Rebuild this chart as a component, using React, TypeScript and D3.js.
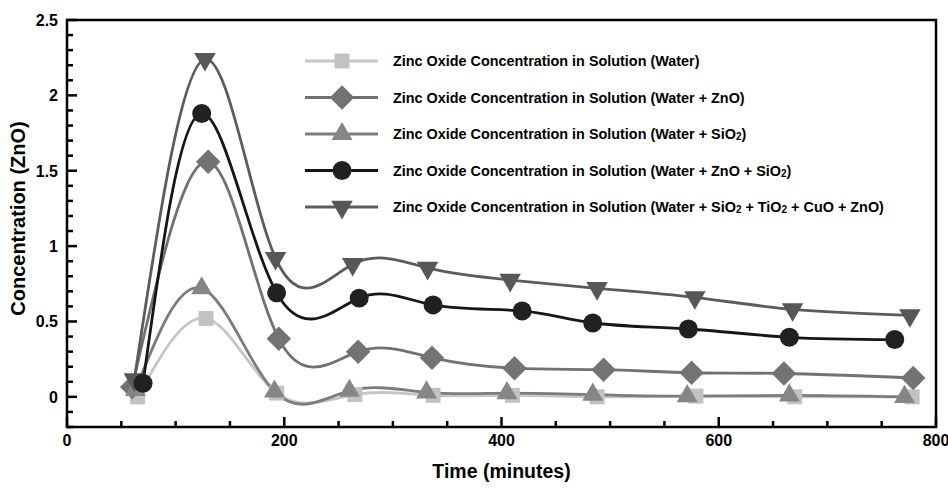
import React from "react";
import * as d3 from "d3";

const seriesNames = [
  "(Water)",
  "(Water + ZnO)",
  "(Water + SiO2)",
  "(Water + ZnO + SiO2)",
  "(Water + SiO2 + TiO2 + CuO + ZnO)",
];

const waterT = [65, 128, 193, 265, 337, 410, 488, 579, 670, 778];
const waterV = [0.0, 0.52, 0.025, 0.015, 0.01, 0.01, 0.0, 0.005, 0.0, 0.0];
const znoT = [60, 130, 195, 268, 336, 412, 494, 575, 660, 779];
const znoV = [0.065, 1.56, 0.385, 0.3, 0.26, 0.19, 0.18, 0.16, 0.155, 0.125];
const sio2T = [63, 124, 191, 260, 331, 405, 484, 571, 665, 771];
const sio2V = [0.045, 0.72, 0.035, 0.04, 0.03, 0.025, 0.015, 0.005, 0.01, 0.0];
const znoSio2T = [70, 124, 193, 269, 337, 419, 484, 572, 665, 762];
const znoSio2V = [0.09, 1.88, 0.69, 0.655, 0.61, 0.57, 0.49, 0.45, 0.395, 0.38];
const allT = [62, 127, 192, 263, 332, 408, 488, 578, 668, 776];
const allV = [0.115, 2.24, 0.92, 0.88, 0.855, 0.775, 0.72, 0.66, 0.58, 0.54];

const xMajorTicks = [0, 200, 400, 600, 800];
const yMajorTicks = [0, 0.5, 1, 1.5, 2, 2.5];

const W = 948;
const H = 488;
const L = 67, R = 936, T = 20, B = 427;

type Style = { line: string; fill: string; shape: string; size: number };
const styles: Style[] = [
  { line: "#c6c6c6", fill: "#c2c2c2", shape: "square", size: 225 },
  { line: "#717171", fill: "#737373", shape: "diamond", size: 300 },
  { line: "#7c7c7c", fill: "#868686", shape: "triangle", size: 190 },
  { line: "#161616", fill: "#212121", shape: "circle", size: 283 },
  { line: "#5c5c5c", fill: "#575757", shape: "tridown", size: 200 },
];

function markerPath(shape: string, size: number) {
  if (shape === "circle") return d3.symbol(d3.symbolCircle, size)()!;
  if (shape === "triangle" || shape === "tridown") return d3.symbol(d3.symbolTriangle, size)()!;
  return d3.symbol(d3.symbolSquare, size)()!;
}
function markerRot(shape: string) {
  if (shape === "diamond") return 45;
  if (shape === "tridown") return 180;
  return 0;
}

function Label({ name }: { name: string }) {
  const parts = ("Zinc Oxide Concentration in Solution " + name).split(/(\d)/);
  return (
    <>
      {parts.map((p, i) =>
        /^\d$/.test(p) ? (
          <tspan key={i} fontSize={10} dy={1}>{p}</tspan>
        ) : (
          <tspan key={i} dy={i > 0 && /^\d$/.test(parts[i - 1]) ? -1 : 0}>{p}</tspan>
        )
      )}
    </>
  );
}

export default function App() {
  const x = d3.scaleLinear().domain([0, 800]).range([L, R]);
  const y = d3.scaleLinear().domain([-0.2, 2.5]).range([B, T]);
  const data = [
    [waterT, waterV],
    [znoT, znoV],
    [sio2T, sio2V],
    [znoSio2T, znoSio2V],
    [allT, allV],
  ];
  const line = d3
    .line<[number, number]>()
    .x((d) => x(d[0]))
    .y((d) => y(d[1]))
    .curve(d3.curveNatural);

  const xMinor = d3.range(0, 801, 50);
  const yMinor = d3.range(-2, 26).map((v) => v / 10);
  const markerOrder = [0, 1, 2, 4, 3];
  const legendY = [61, 97.5, 134, 170.5, 207];

  return (
    <svg width={W} height={H} style={{ position: "absolute", left: 0, top: 0, background: "#fff" }}
      fontFamily="'Liberation Sans', Arial, sans-serif" fontWeight="bold">
      <defs>
        <clipPath id="clip"><rect x={L} y={T} width={R - L} height={B - T} /></clipPath>
      </defs>
      {xMinor.map((v) => (
        <line key={"xm" + v} x1={x(v)} x2={x(v)} y1={B} y2={B - (v % 200 === 0 ? 10 : 6)} stroke="#000" strokeWidth={2.5} />
      ))}
      {yMinor.map((v) => (
        <line key={"ym" + v} x1={L} x2={L + (Math.abs(v * 2 - Math.round(v * 2)) < 1e-6 ? 10 : 6)} y1={y(v)} y2={y(v)} stroke="#000" strokeWidth={2.5} />
      ))}
      <g clipPath="url(#clip)">
        {data.map((d, i) => (
          <path key={"l" + i} d={line(d[0].map((t, j) => [t, d[1][j]] as [number, number]))!}
            fill="none" stroke={styles[i].line} strokeWidth={2.8} />
        ))}
      </g>
      {markerOrder.map((i) =>
        data[i][0].map((t, j) => (
          <path key={"m" + i + "-" + j} d={markerPath(styles[i].shape, styles[i].size)}
            transform={`translate(${x(t)},${y(data[i][1][j])}) rotate(${markerRot(styles[i].shape)})`}
            fill={styles[i].fill} />
        ))
      )}
      <rect x={L} y={T} width={R - L} height={B - T} fill="none" stroke="#000" strokeWidth={2.5} />
      {xMajorTicks.map((v) => (
        <text key={"xl" + v} x={x(v)} y={446} textAnchor="middle" fontSize={16}>{v}</text>
      ))}
      {yMajorTicks.map((v) => (
        <text key={"yl" + v} x={L - 9} y={y(v) + 6} textAnchor="end" fontSize={16}>{v}</text>
      ))}
      <text x={(L + R) / 2} y={478} textAnchor="middle" fontSize={19.5}>Time (minutes)</text>
      <text transform={`translate(25,${(T + B) / 2 - 5}) rotate(-90)`} textAnchor="middle" fontSize={20}>Concentration (ZnO)</text>
      {seriesNames.map((n, i) => (
        <g key={"lg" + i}>
          <line x1={305} x2={378} y1={legendY[i]} y2={legendY[i]} stroke={styles[i].line} strokeWidth={2.8} />
          <path d={markerPath(styles[i].shape, styles[i].size)}
            transform={`translate(342,${legendY[i]}) rotate(${markerRot(styles[i].shape)})`} fill={styles[i].fill} />
          <text x={393} y={legendY[i] + 5} fontSize={14.4}><Label name={n} /></text>
        </g>
      ))}
    </svg>
  );
}
